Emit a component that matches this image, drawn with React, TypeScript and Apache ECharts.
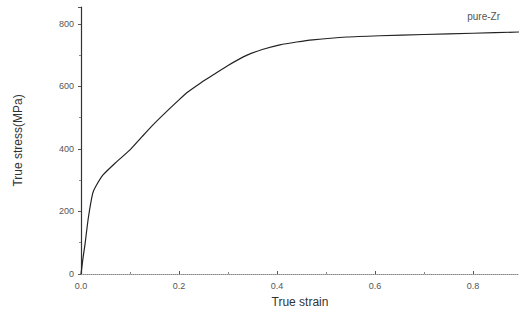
import React, { useEffect, useRef } from "react";
import * as echarts from "echarts";

const strain = [0, 0.004, 0.008, 0.015, 0.024, 0.03, 0.045, 0.07, 0.1, 0.125, 0.147, 0.175, 0.2, 0.218, 0.245, 0.27, 0.3, 0.339, 0.37, 0.406, 0.44, 0.473, 0.543, 0.61, 0.7, 0.8, 0.894];
const stress = [0, 50, 93, 180, 259, 280, 317, 355, 397, 440, 477, 520, 557, 582, 612, 637, 667, 700, 718, 733, 742, 749, 758, 762, 766, 770, 774];
const seriesName = "pure-Zr";
const xTicks = [0, 0.2, 0.4, 0.6, 0.8];
const yTicks = [0, 200, 400, 600, 800];

export default function App() {
  const ref = useRef<HTMLDivElement>(null);
  useEffect(() => {
    if (!ref.current) return;
    const chart = echarts.init(ref.current, null, { renderer: "svg" });
    const font = "Liberation Sans, Arial, sans-serif";
    chart.setOption({
      animation: false,
      backgroundColor: "#ffffff",
      grid: { left: 81, top: 7, right: 0, bottom: 50, containLabel: false },
      legend: {
        data: [seriesName],
        icon: "none",
        right: 14,
        top: 4,
        itemWidth: 0,
        itemGap: 0,
        textStyle: { color: "#555", fontSize: 10, fontFamily: font },
      },
      xAxis: {
        type: "value",
        min: 0,
        max: 0.894,
        interval: 0.2,
        name: "True strain",
        nameLocation: "middle",
        nameGap: 22,
        nameTextStyle: { color: "#333", fontSize: 12, fontFamily: font },
        axisLine: { show: true, lineStyle: { color: "#888", width: 1, type: "dotted" } },
        axisTick: { show: true, inside: true, length: 3, lineStyle: { color: "#555" } },
        minorTick: { show: true, splitNumber: 2, length: 2, lineStyle: { color: "#888" } },
        splitLine: { show: false },
        axisLabel: {
          color: "#555",
          fontSize: 9,
          fontFamily: font,
          margin: 7,
          showMaxLabel: false,
          formatter: (v: number) => (xTicks.some((t) => Math.abs(t - v) < 1e-6) ? v.toFixed(1) : ""),
        },
      },
      yAxis: {
        type: "value",
        min: 0,
        max: 854,
        interval: 200,
        name: "True stress(MPa)",
        nameLocation: "middle",
        nameGap: 57,
        nameRotate: 90,
        nameTextStyle: { color: "#333", fontSize: 12, fontFamily: font },
        axisLine: { show: true, lineStyle: { color: "#333", width: 1.2 } },
        axisTick: { show: true, inside: false, length: 3, lineStyle: { color: "#555" } },
        minorTick: { show: true, splitNumber: 2, length: 2, lineStyle: { color: "#888" } },
        splitLine: { show: false },
        axisLabel: {
          color: "#555",
          fontSize: 9,
          fontFamily: font,
          margin: 7,
          showMaxLabel: false,
          formatter: (v: number) => (yTicks.includes(v) ? String(v) : ""),
        },
      },
      series: [
        {
          name: seriesName,
          type: "line",
          data: strain.map((s, i) => [s, stress[i]]),
          showSymbol: false,
          symbol: "none",
          smooth: 0.2,
          lineStyle: { color: "#222", width: 1.2 },
        },
      ],
    });
    return () => chart.dispose();
  }, []);
  return <div ref={ref} style={{ position: "absolute", left: 0, top: 0, width: 519, height: 324 }} />;
}
